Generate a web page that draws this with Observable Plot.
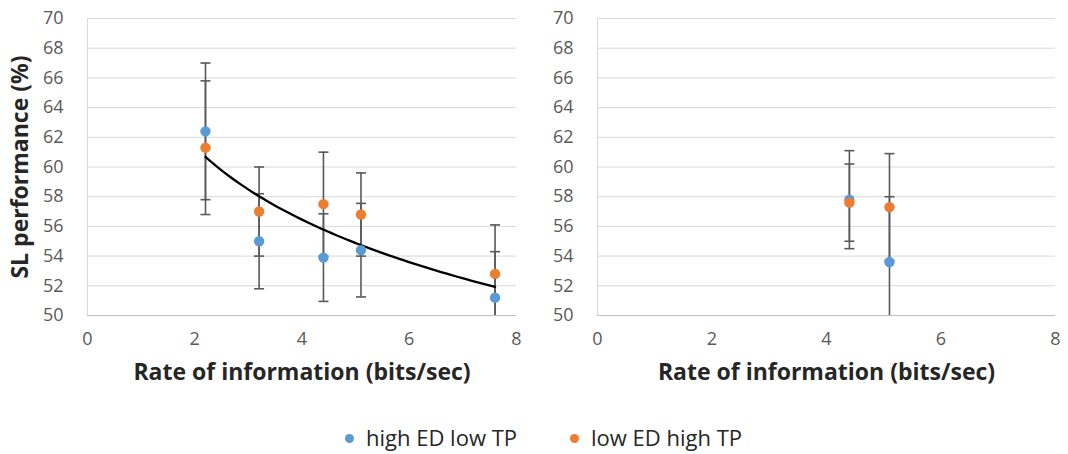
<!DOCTYPE html>
<html>
<head>
<meta charset="utf-8">
<script src="https://cdn.jsdelivr.net/npm/d3@7"></script>
<script src="https://cdn.jsdelivr.net/npm/@observablehq/plot@0.6"></script>
<style>
  body { margin: 0; background: #fff; font-family: "Open Sans", sans-serif; }
  #wrap { position: relative; width: 1068px; height: 454px; }
  #left { position: absolute; left: 0; top: 0; }
  #right { position: absolute; left: 540px; top: 0; }
  .leg { position: absolute; top: 422px; line-height: normal; display: flex; align-items: center; font-size: 22px; color: #262626; white-space: nowrap; }
  .leg span.dot { display: inline-block; width: 9px; height: 9px; border-radius: 50%; margin-right: 12px; margin-top: 3px; }
</style>
</head>
<body>
<div id="wrap">
  <div id="left"></div>
  <div id="right"></div>
</div>
<script>
// ---- data ----
const seriesNames = ["high ED low TP", "low ED high TP"];
const seriesColors = ["#5B9BD5", "#ED7D31"];
const xTicks = [0, 2, 4, 6, 8];
const yTicks = [50, 52, 54, 56, 58, 60, 62, 64, 66, 68, 70];
const xTitle = "Rate of information (bits/sec)";
const yTitle = "SL performance (%)";

const leftX = [2.2, 3.2, 4.4, 5.1, 7.6];
const leftHigh = [62.4, 55.0, 53.9, 54.4, 51.2];
const leftHighErr = [4.6, 3.2, 2.95, 3.15, 3.1];
const leftLow = [61.3, 57.0, 57.5, 56.8, 52.8];
const leftLowErr = [4.5, 3.0, 3.5, 2.8, 3.3];

const rightX = [4.4, 5.1];
const rightHigh = [57.8, 53.6];
const rightHighErr = [3.3, 4.4];
const rightLow = [57.6, 57.3];
const rightLowErr = [2.6, 3.6];

// ---- helpers ----
function rowsFor(xs, high, highErr, low, lowErr) {
  const rows = [];
  xs.forEach((x, i) => rows.push({series: seriesNames[0], x, y: high[i], e: highErr[i]}));
  xs.forEach((x, i) => rows.push({series: seriesNames[1], x, y: low[i], e: lowErr[i]}));
  return rows;
}

// logarithmic trendline (least squares of y on ln x), as Excel's "Logarithmic" trendline
function logTrend(rows) {
  const lx = rows.map(d => Math.log(d.x)), ys = rows.map(d => d.y);
  const mx = d3.mean(lx), my = d3.mean(ys);
  const b = d3.sum(lx, (v, i) => (v - mx) * (ys[i] - my)) / d3.sum(lx, v => (v - mx) ** 2);
  const a = my - b * mx;
  const [x0, x1] = d3.extent(rows, d => d.x);
  return d3.range(61).map(i => { const x = x0 + (x1 - x0) * i / 60; return {x, y: a + b * Math.log(x)}; });
}

const capSymbol = {
  draw(ctx, size) { const w = Math.sqrt(size / Math.PI); ctx.moveTo(-w, 0); ctx.lineTo(w, 0); }
};

function panel(rows, {width, marginLeft, marginRight, trend, yLabel}) {
  const barColor = "#595959";
  const marks = [
    Plot.ruleY(yTicks, {stroke: "#d9d9d9", strokeWidth: 1}),
    Plot.ruleY([50], {stroke: "#bfbfbf", strokeWidth: 1}),
    Plot.ruleX([0], {stroke: "#d9d9d9", strokeWidth: 1}),
    Plot.axisX(xTicks, {tickSize: 0, tickPadding: 17, fontSize: 18, label: null}),
    Plot.axisY(yTicks, {tickSize: 0, tickPadding: 24, fontSize: 18, label: null}),
    Plot.ruleX(rows, {x: "x", y1: d => d.y - d.e, y2: d => d.y + d.e, stroke: barColor, strokeWidth: 1.6, clip: true}),
    Plot.dot(rows, {x: "x", y: d => d.y + d.e, symbol: capSymbol, r: 5, stroke: barColor, strokeWidth: 1.6, fill: "none", clip: true}),
    Plot.dot(rows, {x: "x", y: d => d.y - d.e, symbol: capSymbol, r: 5, stroke: barColor, strokeWidth: 1.6, fill: "none", clip: true})
  ];
  if (trend) marks.push(Plot.line(logTrend(rows), {x: "x", y: "y", stroke: "#000", strokeWidth: 2.3}));
  marks.push(Plot.dot(rows, {x: "x", y: "y", fill: "series", r: 5.2, stroke: "none"}));
  marks.push(Plot.text([xTitle], {frameAnchor: "bottom", textAnchor: "middle", dy: 64, fontSize: 23, fontWeight: "bold", fill: "#262626"}));
  if (yLabel) marks.push(Plot.text([yTitle], {frameAnchor: "left", textAnchor: "middle", dx: -67, rotate: -90, fontSize: 23, fontWeight: "bold", fill: "#262626"}));
  return Plot.plot({
    width, height: 400,
    marginTop: 18, marginBottom: 85, marginLeft, marginRight,
    style: {fontFamily: "'Open Sans', sans-serif", color: "#595959", background: "transparent", overflow: "visible"},
    x: {domain: [0, 8]},
    y: {domain: [50, 70]},
    color: {domain: seriesNames, range: seriesColors},
    marks
  });
}

document.getElementById("left").append(panel(rowsFor(leftX, leftHigh, leftHighErr, leftLow, leftLowErr),
  {width: 540, marginLeft: 87, marginRight: 24, trend: true, yLabel: true}));
document.getElementById("right").append(panel(rowsFor(rightX, rightHigh, rightHighErr, rightLow, rightLowErr),
  {width: 528, marginLeft: 57, marginRight: 13, trend: false, yLabel: false}));

// legend
const legendLeft = [345, 570];
seriesNames.forEach((name, i) => {
  const item = document.createElement("div");
  item.className = "leg";
  item.style.left = legendLeft[i] + "px";
  const dot = document.createElement("span");
  dot.className = "dot";
  dot.style.background = seriesColors[i];
  const label = document.createElement("span");
  label.textContent = name;
  item.append(dot, label);
  document.getElementById("wrap").append(item);
});
</script>
</body>
</html>
